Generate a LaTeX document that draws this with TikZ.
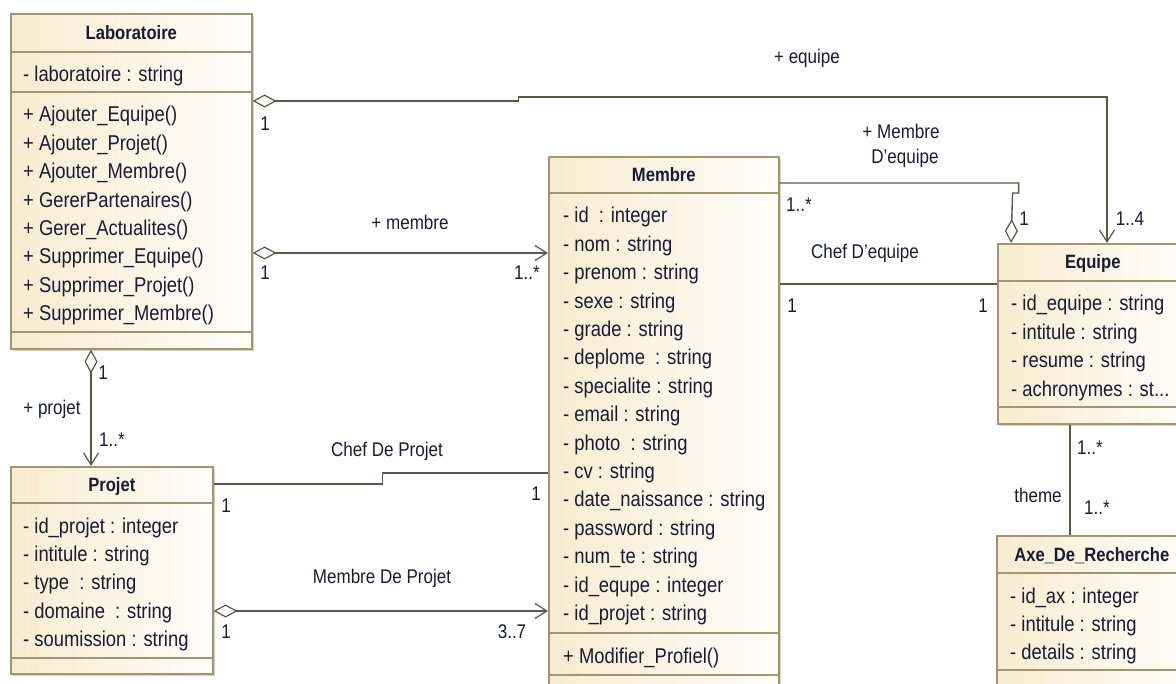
\documentclass[tikz,border=0pt]{standalone}
\usepackage{fontspec}
\setmainfont[FakeStretch=0.86]{Liberation Sans}
\usetikzlibrary{arrows.meta,calc,shadows}
\definecolor{bordc}{HTML}{A39473}
\definecolor{boxl}{HTML}{F8ECD0}
\definecolor{boxr}{HTML}{FFFDF9}
\definecolor{linec}{HTML}{5E5648}
\definecolor{txtc}{HTML}{1A1A36}
\definecolor{shadc}{HTML}{D9D3C6}
\begin{document}
\begin{tikzpicture}[x=1pt,y=-1pt,
  classbox/.style={draw=bordc, line width=1.6pt, left color=boxl, right color=boxr, inner sep=0pt, anchor=north west,
     drop shadow={shadow xshift=2.5pt, shadow yshift=-2.5pt, fill=shadc, opacity=1}},
  sepline/.style={draw=bordc, line width=1.6pt},
  ttl/.style={font=\bfseries\fontsize{19.3}{21}\selectfont, text=txtc, inner sep=0pt, anchor=base},
  row/.style={font=\fontsize{21.4}{24}\selectfont, text=txtc, anchor=base west, inner sep=0pt},
  lbl/.style={font=\fontsize{19.8}{22}\selectfont, text=txtc, inner sep=0pt},
  conn/.style={draw=linec, line width=1.4pt},
  dia/.tip={Diamond[fill=white,length=24pt,width=13pt,line width=1.2pt]},
  barb/.tip={Straight Barb[length=12pt,width=15pt,line width=1.2pt]},
  agg/.style={conn, dia-barb}
]
\useasboundingbox (0,0) rectangle (1176,684);
\clip (0,0) rectangle (1176,684);

% ---------- class boxes ----------
\node[classbox, minimum width=241pt, minimum height=335pt] (lab) at (10,13) {};
\draw[sepline] ($(lab.north west)+(0,39)$) -- ($(lab.north east)+(0,39)$);
\draw[sepline] ($(lab.north west)+(0,79)$) -- ($(lab.north east)+(0,79)$);
\draw[sepline] ($(lab.north west)+(0,319)$) -- ($(lab.north east)+(0,319)$);

\node[classbox, minimum width=202pt, minimum height=207pt] (projet) at (10,466) {};
\draw[sepline] ($(projet.north west)+(0,37)$) -- ($(projet.north east)+(0,37)$);
\draw[sepline] ($(projet.north west)+(0,192)$) -- ($(projet.north east)+(0,192)$);

\node[classbox, minimum width=230pt, minimum height=560pt] (membre) at (548,156) {};
\draw[sepline] ($(membre.north west)+(0,37)$) -- ($(membre.north east)+(0,37)$);
\draw[sepline] ($(membre.north west)+(0,477)$) -- ($(membre.north east)+(0,477)$);
\draw[sepline] ($(membre.north west)+(0,519)$) -- ($(membre.north east)+(0,519)$);

\node[classbox, minimum width=190pt, minimum height=180pt] (equipe) at (997,243) {};
\draw[sepline] ($(equipe.north west)+(0,38)$) -- ($(equipe.north east)+(0,38)$);
\draw[sepline] ($(equipe.north west)+(0,164)$) -- ($(equipe.north east)+(0,164)$);

\node[classbox, minimum width=190pt, minimum height=180pt] (axe) at (996,535) {};
\draw[sepline] ($(axe.north west)+(0,38)$) -- ($(axe.north east)+(0,38)$);
\draw[sepline] ($(axe.north west)+(0,135)$) -- ($(axe.north east)+(0,135)$);

% ---------- titles ----------
\node[ttl] (lab-t) at ($(lab.north)+(0,26.5)$) {Laboratoire};
\node[ttl] (projet-t) at ($(projet.north)+(0,25.5)$) {Projet};
\node[ttl] (membre-t) at ($(membre.north)+(0,25.5)$) {Membre};
\node[ttl] (equipe-t) at ($(equipe.north)+(0,26)$) {Equipe};
\node[ttl] (axe-t) at ($(axe.north)+(0,26)$) {Axe\_De\_Recherche};

% ---------- rows ----------
\node[row] (lab-a1) at (23,82) {- laboratoire : string};
\foreach [count=\i] \t in {+ Ajouter\_Equipe(), + Ajouter\_Projet(), + Ajouter\_Membre(), + GererPartenaires(),
  + Gerer\_Actualites(), + Supprimer\_Equipe(), + Supprimer\_Projet(), + Supprimer\_Membre()}
  \node[row] (lab-m\i) at (23,{122+(\i-1)*28.4}) {\t};

\foreach [count=\i] \t in {- id\_projet : integer, - intitule : string, - type~ : string, - domaine~ : string, - soumission : string}
  \node[row] (projet-a\i) at (23,{533+(\i-1)*28.4}) {\t};

\foreach [count=\i] \t in {- id~ : integer, - nom : string, - prenom : string, - sexe : string, - grade : string,
  - deplome~ : string, - specialite : string, - email : string, - photo~ : string, - cv : string,
  - date\_naissance : string, - password : string, - num\_te : string, - id\_equpe : integer, - id\_projet : string}
  \node[row] (membre-a\i) at (563,{223+(\i-1)*28.4}) {\t};
\node[row] (membre-m1) at (563,663) {+ Modifier\_Profiel()};

\foreach [count=\i] \t in {- id\_equipe : string, - intitule : string, - resume : string}
  \node[row] (equipe-a\i) at (1011,{311+(\i-1)*28.4}) {\t};
\node[row] (equipe-a4) at (1011,396.2) {- achronymes : st...};

\foreach [count=\i] \t in {- id\_ax : integer, - intitule : string, - details : string}
  \node[row] (axe-a\i) at (1010,{603+(\i-1)*28.4}) {\t};

% ---------- connectors ----------
\draw[agg] ($(lab.north east)+(0,88)$) -- ++(266,0) -- ++(0,-4) -| ($(equipe.north west)+(110,0)$);
\draw[agg] ($(lab.north east)+(0,240)$) -- ($(membre.north west)+(0,97)$);
\draw[agg] ($(lab.south west)+(81,0)$) -- ($(projet.north west)+(81,0)$);
\draw[conn] ($(projet.north east)+(0,18)$) -- ++(169,0) -- ++(0,-11) -- ($(membre.north west)+(0,317)$);
\draw[agg] ($(projet.north east)+(0,145)$) -- ($(membre.north west)+(0,455)$);
\draw[conn,-dia] ($(membre.north east)+(0,27)$) -- ++(239,0) -- ++(0,10) -- ++(-6,0) -- ($(equipe.north west)+(14,0)$);
\draw[conn] ($(membre.north east)+(0,128)$) -- ($(equipe.north west)+(0,41)$);
\draw[conn] ($(equipe.south west)+(73,0)$) -- ($(axe.north west)+(74,0)$);

% ---------- labels ----------
\node[lbl] (l-equipe) at (807,58) {+ equipe};
\node[lbl] (l-me1) at (901,131) {+ Membre};
\node[lbl] (l-me2) at (905,158) {D'equipe};
\node[lbl] (l-membre) at (410,222) {+ membre};
\node[lbl] (l-chefeq) at (865,253) {Chef D'equipe};
\node[lbl] (l-chefpr) at (387,451) {Chef De Projet};
\node[lbl] (l-mempr) at (382,578) {Membre De Projet};
\node[lbl] (l-projet) at (52,409) {+ projet};
\node[lbl] (l-theme) at (1038,495) {theme};

\node[lbl] (m1) at (265,124) {1};
\node[lbl] (m2) at (265,273) {1};
\node[lbl] (m3) at (527,273) {1..*};
\node[lbl] (m4) at (103,373) {1};
\node[lbl] (m5) at (112,440) {1..*};
\node[lbl] (m6) at (226,506) {1};
\node[lbl] (m7) at (536,494) {1};
\node[lbl] (m8) at (226,632) {1};
\node[lbl] (m9) at (512,632) {3..7};
\node[lbl] (m10) at (799,205) {1..*};
\node[lbl] (m11) at (1024,219) {1};
\node[lbl] (m12) at (1130,219) {1..4};
\node[lbl] (m13) at (792,306) {1};
\node[lbl] (m14) at (983,306) {1};
\node[lbl] (m15) at (1090,448) {1..*};
\node[lbl] (m16) at (1097,508) {1..*};
\end{tikzpicture}
\end{document}
